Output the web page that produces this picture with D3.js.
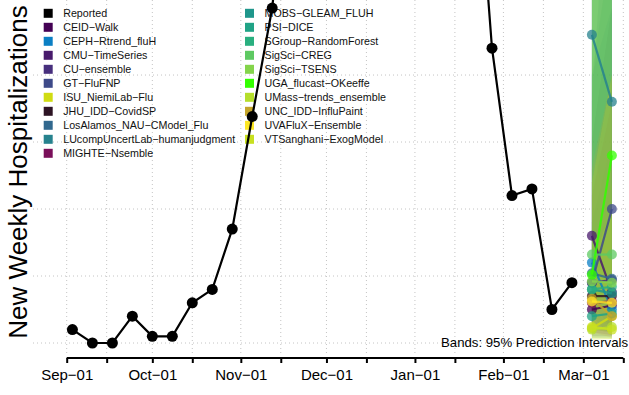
<!DOCTYPE html>
<html>
<head>
<meta charset="utf-8">
<script src="https://cdn.jsdelivr.net/npm/d3@7"></script>
<style>
  html, body { margin: 0; padding: 0; background: #ffffff; }
  svg { display: block; }
  text { font-family: "Liberation Sans", Arial, Helvetica, sans-serif; }
</style>
</head>
<body>
<div id="chart"></div>
<script>
// ---------- data ----------
const reportedDates = ["2022-09-03","2022-09-10","2022-09-17","2022-09-24","2022-10-01","2022-10-08",
  "2022-10-15","2022-10-22","2022-10-29","2022-11-05","2022-11-12","2022-11-19","2022-11-26",
  "2022-12-03","2022-12-10","2022-12-17","2022-12-24","2022-12-31","2023-01-07","2023-01-14",
  "2023-01-21","2023-01-28","2023-02-04","2023-02-11","2023-02-18","2023-02-25"];
const reportedValues = [10, 0, 0, 20, 5, 5, 30, 40, 85, 169, 250, 400, 520, 580, 540, 500, 470,
  520, 480, 430, 416, 220, 110, 115, 25, 45];

const forecastDates = ["2023-03-04", "2023-03-11"];
const models = ["CEID\u2212Walk","CEPH\u2212Rtrend_fluH","CMU\u2212TimeSeries","CU\u2212ensemble",
  "GT\u2212FluFNP","ISU_NiemiLab\u2212Flu","JHU_IDD\u2212CovidSP","LosAlamos_NAU\u2212CModel_Flu",
  "LUcompUncertLab\u2212humanjudgment","MIGHTE\u2212Nsemble","MOBS\u2212GLEAM_FLUH","PSI\u2212DICE",
  "SGroup\u2212RandomForest","SigSci\u2212CREG","SigSci\u2212TSENS","UGA_flucast\u2212OKeeffe",
  "UMass\u2212trends_ensemble","UNC_IDD\u2212InfluPaint","UVAFluX\u2212Ensemble","VTSanghani\u2212ExogModel"];
const modelColors = ["#440154","#0b7fc4","#481a6c","#472f7d","#3e4a89","#d0dc12","#2d1424","#31688e",
  "#26828e","#7a0f5a","#1f968b","#20a386","#29af7f","#5ec962","#84d44b","#33ff00","#b5de2b",
  "#c4a52a","#fde725","#c8e020"];
// point forecasts (week 1, week 2)
const pointWk1 = [25, 60, 80, 45, 45, 11, 35, 52, 230, 30, 40, 20, 40, 66, 46, 51, 10, 33, 31, 12];
const pointWk2 = [28, 25, 38, 47, 100, 20, 35, 48, 180, 31, 37, 22, 42, 66, 45, 140, 12, 20, 30, 10];
// 95% prediction intervals
const lowerWk1 = [5, 20, 30, 15, 15, 2, 10, 20, 150, 8, 12, 4, 10, 30, 15, 20, 3, 8, 10, 4];
const lowerWk2 = [5, 5, 10, 10, 40, 3, 8, 12, 80, 6, 8, 4, 8, 20, 10, 50, 3, 4, 8, 3];
const upperWk1 = [90, 200, 300, 150, 180, 60, 120, 200, 420, 110, 320, 300, 300, 360, 340, 280, 300, 130, 120, 60];
const upperWk2 = [150, 250, 350, 250, 400, 120, 200, 300, 500, 180, 420, 380, 400, 450, 420, 500, 380, 200, 200, 100];

const xTickDates = ["2022-09-01","2022-09-15","2022-10-01","2022-10-15","2022-11-01","2022-11-15",
  "2022-12-01","2022-12-15","2023-01-01","2023-01-15","2023-02-01","2023-02-15","2023-03-01","2023-03-15"];
const yGridValues = [0, 50, 100, 150, 200];

// ---------- setup ----------
const W = 629, H = 395;
const parse = d3.utcParse("%Y-%m-%d");
const svg = d3.select("#chart").append("svg").attr("width", W).attr("height", H);

const x = d3.scaleUtc().domain([parse("2022-09-01"), parse("2023-03-15")]).range([66.7, 623.3]);
const y = d3.scaleLinear().domain([0, 256]).range([343, 0]);

const plotLeft = 33, plotRight = W, plotTop = -50, plotBottom = 353;

svg.append("defs").append("clipPath").attr("id", "plotclip")
  .append("rect").attr("x", plotLeft).attr("y", plotTop)
  .attr("width", plotRight - plotLeft).attr("height", plotBottom - plotTop);

// grid
const grid = svg.append("g");
grid.selectAll("line.v").data(xTickDates).join("line")
  .attr("x1", d => x(parse(d))).attr("x2", d => x(parse(d)))
  .attr("y1", 0).attr("y2", plotBottom)
  .attr("stroke", "#c4c4c4").attr("stroke-width", 1).attr("stroke-dasharray", "1,3");
grid.selectAll("line.h").data(yGridValues).join("line")
  .attr("x1", plotLeft).attr("x2", plotRight)
  .attr("y1", d => y(d)).attr("y2", d => y(d))
  .attr("stroke", "#c4c4c4").attr("stroke-width", 1).attr("stroke-dasharray", "1,3");

// x axis
const xAxis = d3.axisBottom(x)
  .tickValues(xTickDates.map(parse))
  .tickSize(5)
  .tickFormat(d => d.getUTCDate() === 1 ? d3.utcFormat("%b")(d) + "\u221201" : "");
const ax = svg.append("g").attr("transform", "translate(0,358)").call(xAxis);
ax.select(".domain").attr("stroke", "#000").attr("stroke-width", 2)
  .attr("d", `M${x(parse(xTickDates[0]))},0H${x(parse(xTickDates[xTickDates.length-1]))}`);
ax.selectAll(".tick line").attr("stroke", "#000").attr("stroke-width", 2);
ax.selectAll(".tick text").attr("font-size", 15).attr("fill", "#000").attr("dy", "0.95em")
  .style("font-family", "'Liberation Sans', Arial, sans-serif");

// y label
svg.append("text")
  .attr("transform", "translate(27,172) rotate(-90)")
  .attr("text-anchor", "middle")
  .attr("font-size", 26).attr("fill", "#000")
  .text("New Weekly Hospitalizations");

// legend (drawn beneath data)
const legendNames = ["Reported"].concat(models);
const legendColors = ["#000000"].concat(modelColors);
const leg = svg.append("g");
legendNames.forEach((name, i) => {
  const col = i < 11 ? 0 : 1;
  const row = i < 11 ? i : i - 11;
  const sx = col === 0 ? 43.7 : 245;
  const cy = 13.3 + row * 14;
  leg.append("rect").attr("x", sx).attr("y", cy - 4.5).attr("width", 9).attr("height", 9)
    .attr("fill", legendColors[i]);
  leg.append("text").attr("x", sx + 19.5).attr("y", cy).attr("dy", "0.36em")
    .attr("font-size", 10.7).attr("fill", "#111").text(name);
});

const plot = svg.append("g").attr("clip-path", "url(#plotclip)");

// bands
const fx1 = x(parse(forecastDates[0])), fx2 = x(parse(forecastDates[1]));
models.forEach((m, i) => {
  const pts = [[fx1, y(lowerWk1[i])], [fx2, y(lowerWk2[i])], [fx2, y(upperWk2[i])], [fx1, y(upperWk1[i])]];
  plot.append("path").attr("d", d3.line()(pts) + "Z")
    .attr("fill", modelColors[i]).attr("fill-opacity", 0.16).attr("stroke", "none");
});

// reported line
const rep = reportedDates.map((d, i) => [x(parse(d)), y(reportedValues[i])]);
plot.append("path").attr("d", d3.line()(rep)).attr("fill", "none")
  .attr("stroke", "#000").attr("stroke-width", 2.2);
plot.selectAll("circle.rep").data(rep).join("circle")
  .attr("cx", d => d[0]).attr("cy", d => d[1]).attr("r", 5.5).attr("fill", "#000");

// forecasts
models.forEach((m, i) => {
  const pts = [[fx1, y(pointWk1[i])], [fx2, y(pointWk2[i])]];
  plot.append("path").attr("d", d3.line()(pts)).attr("fill", "none")
    .attr("stroke", modelColors[i]).attr("stroke-width", 2.2).attr("stroke-opacity", 0.85);
  pts.forEach(p => plot.append("circle").attr("cx", p[0]).attr("cy", p[1]).attr("r", 5)
    .attr("fill", modelColors[i]).attr("fill-opacity", 0.75));
});

// annotation
svg.append("text").attr("x", 628).attr("y", 346.5).attr("text-anchor", "end")
  .attr("font-size", 13.2).attr("fill", "#000").text("Bands: 95% Prediction Intervals");
</script>
</body>
</html>
